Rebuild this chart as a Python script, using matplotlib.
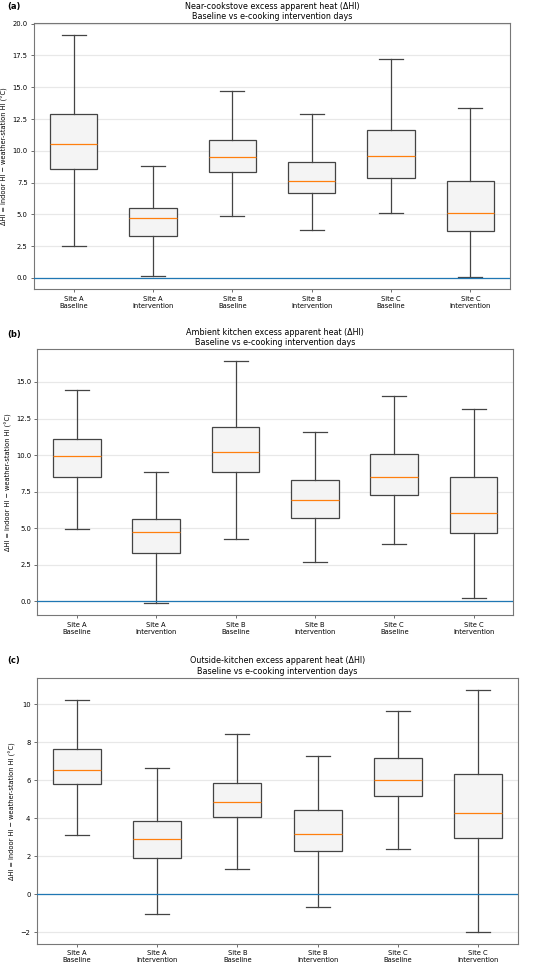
import matplotlib.pyplot as plt

groups = ["Site A\nBaseline", "Site A\nIntervention", "Site B\nBaseline",
          "Site B\nIntervention", "Site C\nBaseline", "Site C\nIntervention"]

# (whislo, q1, med, q3, whishi) per group
near_stats = [
    (2.52, 8.57, 10.53, 12.87, 19.08),
    (0.13, 3.30, 4.72, 5.50, 8.80),
    (4.85, 8.36, 9.49, 10.88, 14.70),
    (3.80, 6.66, 7.65, 9.12, 12.87),
    (5.14, 7.84, 9.59, 11.64, 17.24),
    (0.05, 3.67, 5.11, 7.60, 13.39),
]
ambient_stats = [
    (4.91, 8.52, 9.91, 11.07, 14.43),
    (-0.14, 3.27, 4.73, 5.61, 8.86),
    (4.23, 8.82, 10.23, 11.93, 16.41),
    (2.70, 5.70, 6.91, 8.27, 11.59),
    (3.89, 7.25, 8.48, 10.05, 14.07),
    (0.23, 4.66, 6.05, 8.48, 13.16),
]
outside_stats = [
    (3.14, 5.79, 6.54, 7.63, 10.23),
    (-1.04, 1.88, 2.91, 3.86, 6.65),
    (1.35, 4.04, 4.84, 5.86, 8.44),
    (-0.68, 2.26, 3.16, 4.44, 7.28),
    (2.40, 5.19, 6.00, 7.14, 9.61),
    (-1.98, 2.95, 4.25, 6.33, 10.75),
]

panels = [
    ("(a)", "Near-cookstove excess apparent heat (ΔHI)", near_stats),
    ("(b)", "Ambient kitchen excess apparent heat (ΔHI)", ambient_stats),
    ("(c)", "Outside-kitchen excess apparent heat (ΔHI)", outside_stats),
]

W, H = 550, 967
# axes boxes in pixels: left, top, right, bottom
boxes_px = [(34, 23.3, 510, 289.3), (37.3, 349.3, 513.3, 615.3), (36.7, 677.7, 518.3, 944)]
label_y = [7, 334, 661]

fig = plt.figure(figsize=(W / 100, H / 100), dpi=100)
for (tag, title, stats), (l, t, r, b), ly in zip(panels, boxes_px, label_y):
    ax = fig.add_axes([l / W, 1 - b / H, (r - l) / W, (b - t) / H])
    bxp_stats = []
    for name, (lo, q1, med, q3, hi) in zip(groups, stats):
        bxp_stats.append({"whislo": lo, "q1": q1, "med": med, "q3": q3, "whishi": hi,
                          "label": name, "fliers": []})
    ax.bxp(bxp_stats, widths=0.6, patch_artist=True, showfliers=False,
           boxprops=dict(facecolor="#f4f4f4", edgecolor="#444444", linewidth=0.9),
           whiskerprops=dict(color="#444444", linewidth=0.9),
           capprops=dict(color="#444444", linewidth=0.9),
           medianprops=dict(color="#ff7f0e", linewidth=0.9))
    ax.axhline(0, color="#1f77b4", linewidth=0.9, zorder=3)
    ax.yaxis.grid(True, color="#e8e8e8", linewidth=0.9)
    ax.set_axisbelow(True)
    ax.set_title(title + "\nBaseline vs e-cooking intervention days", fontsize=5.8, pad=3,
                 linespacing=1.15)
    ax.set_ylabel("ΔHI = indoor HI − weather-station HI (°C)", fontsize=4.8, labelpad=3)
    ax.tick_params(labelsize=4.9, length=2.5, width=0.6, pad=2, color="#555555")
    for s in ax.spines.values():
        s.set_color("#777777")
        s.set_linewidth(0.8)
    if tag == "(c)":
        ax.set_yticks([-2, 0, 2, 4, 6, 8, 10])
    else:
        ax.yaxis.set_major_formatter(plt.FormatStrFormatter("%.1f"))
    fig.text(7 / W, 1 - ly / H, tag, fontsize=6, fontweight="bold", va="center", ha="left")

fig.savefig("out.png", dpi=100)
